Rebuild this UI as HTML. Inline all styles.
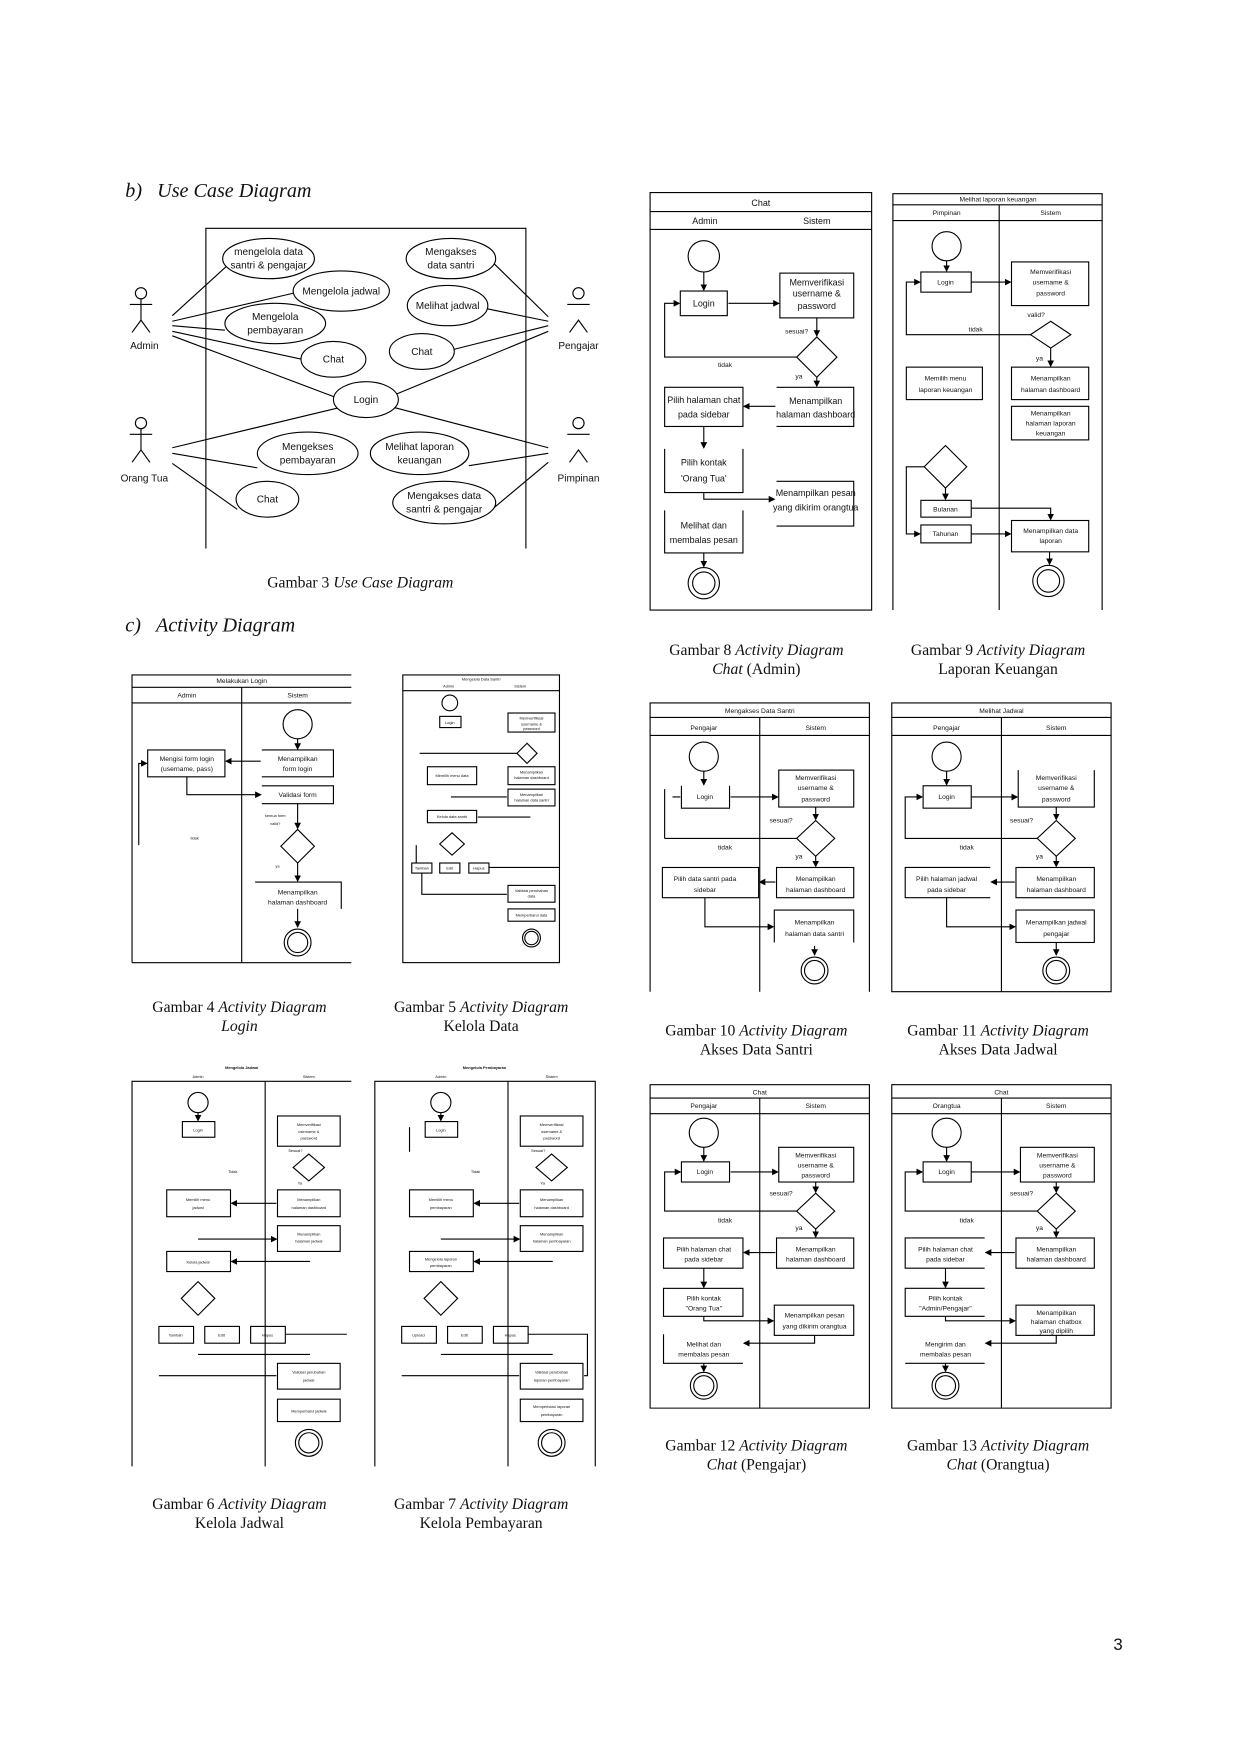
<!DOCTYPE html>
<html><head><meta charset="utf-8"><style>
html,body{margin:0;padding:0;background:#fff}
svg{display:block}
.s{fill:none;stroke:#000;stroke-width:1}
.w{fill:#fff;stroke:#000;stroke-width:1}
.t{font-family:"Liberation Sans",sans-serif;font-size:8px;text-anchor:middle;fill:#111}
.m{font-family:"Liberation Sans",sans-serif;font-size:6px;text-anchor:middle;fill:#111}
.n{font-family:"Liberation Sans",sans-serif;font-size:3.5px;text-anchor:middle;fill:#111}
.u{font-family:"Liberation Sans",sans-serif;font-size:9px;text-anchor:middle;fill:#111}
.cap{font-family:"Liberation Serif",serif;font-size:14px;text-anchor:middle;fill:#111}
.h{font-family:"Liberation Serif",serif;font-size:18px;font-style:italic;fill:#111}
</style></head><body>
<svg width="1242" height="1754" viewBox="0 0 1110 1567" preserveAspectRatio="none" xmlns="http://www.w3.org/2000/svg">
<defs><marker id="a" markerWidth="6" markerHeight="6" refX="5" refY="3" orient="auto" markerUnits="userSpaceOnUse"><path d="M0,0 L6,3 L0,6 z" fill="#000"/></marker></defs>

<text class="h" x="112" y="176">b)&#160;&#160;&#160;Use Case Diagram</text>
<text class="h" x="112" y="564">c)&#160;&#160;&#160;Activity Diagram</text>

<!-- USE CASE -->
<g>
<path class="s" d="M184,490 V204 H470 V490"/>
<g class="s">
<line x1="154" y1="282" x2="210" y2="231"/><line x1="154" y1="287" x2="262" y2="262"/>
<line x1="154" y1="291" x2="201" y2="295"/><line x1="154" y1="296" x2="270" y2="321"/>
<line x1="154" y1="300" x2="300" y2="355"/>
<line x1="490" y1="283" x2="442" y2="236"/><line x1="490" y1="287" x2="436" y2="276"/>
<line x1="490" y1="291" x2="406" y2="312"/><line x1="490" y1="296" x2="352" y2="353"/>
<line x1="154" y1="400" x2="304" y2="364"/><line x1="154" y1="405" x2="230" y2="418"/>
<line x1="154" y1="414" x2="212" y2="455"/>
<line x1="490" y1="400" x2="352" y2="364"/><line x1="490" y1="405" x2="419" y2="416"/>
<line x1="490" y1="413" x2="441" y2="454"/>
</g>
<g class="w">
<ellipse cx="240" cy="231" rx="41" ry="18"/><ellipse cx="403" cy="231" rx="40" ry="18"/>
<ellipse cx="305" cy="260" rx="43" ry="18"/><ellipse cx="400" cy="273" rx="36" ry="18"/>
<ellipse cx="246" cy="289" rx="45" ry="18"/><ellipse cx="298" cy="321" rx="29" ry="16"/>
<ellipse cx="377" cy="314" rx="29" ry="16"/><ellipse cx="327" cy="357" rx="29" ry="16"/>
<ellipse cx="275" cy="405" rx="45" ry="19"/><ellipse cx="375" cy="405" rx="44" ry="19"/>
<ellipse cx="239" cy="446" rx="28" ry="16"/><ellipse cx="397" cy="449" rx="46" ry="19"/>
</g>
<g class="u">
<text x="240" y="228">mengelola data</text><text x="240" y="240">santri &amp; pengajar</text>
<text x="403" y="228">Mengakses</text><text x="403" y="240">data santri</text>
<text x="305" y="263">Mengelola jadwal</text><text x="400" y="276">Melihat jadwal</text>
<text x="246" y="286">Mengelola</text><text x="246" y="298">pembayaran</text>
<text x="298" y="324">Chat</text><text x="377" y="317">Chat</text><text x="327" y="360">Login</text>
<text x="275" y="402">Mengekses</text><text x="275" y="414">pembayaran</text>
<text x="375" y="402">Melihat laporan</text><text x="375" y="414">keuangan</text>
<text x="239" y="449">Chat</text>
<text x="397" y="446">Mengakses data</text><text x="397" y="458">santri &amp; pengajar</text>
</g>
<g class="s">
<circle cx="126" cy="262" r="5"/><line x1="126" y1="267" x2="126" y2="286"/><line x1="116" y1="272" x2="136" y2="272"/><path d="M118,297 L126,286 L134,297"/>
<circle cx="126" cy="378" r="5"/><line x1="126" y1="383" x2="126" y2="402"/><line x1="116" y1="388" x2="136" y2="388"/><path d="M118,413 L126,402 L134,413"/>
<circle cx="517" cy="262" r="5"/><line x1="507" y1="272" x2="527" y2="272"/><path d="M509,297 L517,286 L525,297"/>
<circle cx="517" cy="378" r="5"/><line x1="507" y1="388" x2="527" y2="388"/><path d="M509,413 L517,402 L525,413"/>
</g>
<g class="u"><text x="129" y="312">Admin</text><text x="129" y="430">Orang Tua</text><text x="517" y="312">Pengajar</text><text x="517" y="430">Pimpinan</text></g>
<text class="cap" x="322" y="525">Gambar 3 <tspan font-style="italic">Use Case Diagram</tspan></text>
</g>

<!-- FIG 8 -->
<g>
<path class="s" d="M581,545 V172 H779 V545 Z M581,189 H779 M581,205 H779"/>
<text class="t" x="680" y="184">Chat</text><text class="t" x="630" y="200">Admin</text><text class="t" x="730" y="200">Sistem</text>
<circle class="s" cx="629" cy="229" r="14"/>
<line class="s" x1="629" y1="243" x2="629" y2="259" marker-end="url(#a)"/>
<rect class="s" x="608" y="260" width="42" height="22"/><text class="t" x="629" y="274">Login</text>
<line class="s" x1="651" y1="271" x2="696" y2="271" marker-end="url(#a)"/>
<rect class="s" x="697" y="244" width="66" height="40"/><text class="t" x="730" y="255">Memverifikasi</text><text class="t" x="730" y="265">username &amp;</text><text class="t" x="730" y="276">password</text>
<line class="s" x1="730" y1="284" x2="730" y2="300" marker-end="url(#a)"/>
<path class="s" d="M730,301 L748,319 L730,337 L712,319 Z"/>
<text class="m" x="712" y="298">sesuai?</text>
<path class="s" d="M712,319 H594 V271 H607" marker-end="url(#a)"/><text class="m" x="648" y="328">tidak</text>
<text class="m" x="714" y="338">ya</text>
<line class="s" x1="730" y1="337" x2="730" y2="345" marker-end="url(#a)"/>
<path class="s" d="M694,346 H763 V381 H694"/><text class="t" x="729" y="361">Menampilkan</text><text class="t" x="729" y="373">halaman dashboard</text>
<line class="s" x1="693" y1="363" x2="665" y2="363" marker-end="url(#a)"/>
<rect class="s" x="594" y="346" width="70" height="35"/><text class="t" x="629" y="360">Pilih halaman chat</text><text class="t" x="629" y="373">pada sidebar</text>
<line class="s" x1="629" y1="381" x2="629" y2="400" marker-end="url(#a)"/>
<path class="s" d="M594,401 V440 H664 V401"/><text class="t" x="629" y="416">Pilih kontak</text><text class="t" x="629" y="430">'Orang Tua'</text>
<path class="s" d="M629,440 V446 H692" marker-end="url(#a)"/>
<path class="s" d="M694,430 H763 V470 H694"/><text class="t" x="729" y="443">Menampilkan pesan</text><text class="t" x="729" y="456">yang dikirim orangtua</text>
<path class="s" d="M594,456 V494 H664 V456"/><text class="t" x="629" y="472">Melihat dan</text><text class="t" x="629" y="485">membalas pesan</text>
<line class="s" x1="629" y1="494" x2="629" y2="506" marker-end="url(#a)"/>
<circle class="s" cx="629" cy="521" r="14"/><circle class="s" cx="629" cy="521" r="10"/>
<text class="cap" x="676" y="585">Gambar 8 <tspan font-style="italic">Activity Diagram</tspan></text>
<text class="cap" x="676" y="602"><tspan font-style="italic">Chat</tspan> (Admin)</text>
</g>

<!-- FIG 9 -->
<g>
<path class="s" d="M798,545 V173 H985 V545 M798,183 H985 M798,197 H985 M893,183 V545"/>
<text class="m" x="892" y="180">Melihat laporan keuangan</text><text class="m" x="846" y="192">Pimpinan</text><text class="m" x="939" y="192">Sistem</text>
<circle class="s" cx="846" cy="220" r="13"/>
<line class="s" x1="846" y1="233" x2="846" y2="242" marker-end="url(#a)"/>
<rect class="s" x="823" y="243" width="45" height="18"/><text class="m" x="845" y="254">Login</text>
<line class="s" x1="868" y1="252" x2="903" y2="252" marker-end="url(#a)"/>
<rect class="s" x="904" y="234" width="69" height="39"/><text class="m" x="939" y="245">Memverifikasi</text><text class="m" x="939" y="254">username &amp;</text><text class="m" x="939" y="264">password</text>
<text class="m" x="926" y="283">valid?</text>
<path class="s" d="M939,287 L957,299 L939,311 L921,299 Z"/>
<path class="s" d="M921,299 H810 V252 H822" marker-end="url(#a)"/><text class="m" x="872" y="296">tidak</text>
<text class="m" x="929" y="322">ya</text>
<line class="s" x1="939" y1="311" x2="939" y2="327" marker-end="url(#a)"/>
<rect class="s" x="810" y="328" width="68" height="29"/><text class="m" x="845" y="340">Memilih menu</text><text class="m" x="845" y="350">laporan keuangan</text>
<rect class="s" x="904" y="328" width="69" height="29"/><text class="m" x="939" y="340">Menampilkan</text><text class="m" x="939" y="350">halaman dashboard</text>
<rect class="s" x="904" y="363" width="69" height="30"/><text class="m" x="939" y="371">Menampilkan</text><text class="m" x="939" y="380">halaman laporan</text><text class="m" x="939" y="389">keuangan</text>
<path class="s" d="M845,398 L864,417 L845,436 L826,417 Z"/>
<path class="s" d="M826,417 H810 V477 H822" marker-end="url(#a)"/>
<line class="s" x1="845" y1="436" x2="845" y2="446" marker-end="url(#a)"/>
<rect class="s" x="823" y="447" width="45" height="15"/><text class="m" x="845" y="457">Bulanan</text>
<rect class="s" x="823" y="469" width="45" height="16"/><text class="m" x="845" y="479">Tahunan</text>
<path class="s" d="M868,454 H939 V464" marker-end="url(#a)"/>
<line class="s" x1="868" y1="477" x2="903" y2="477" marker-end="url(#a)"/>
<rect class="s" x="904" y="465" width="69" height="28"/><text class="m" x="939" y="476">Menampilkan data</text><text class="m" x="939" y="485">laporan</text>
<line class="s" x1="938" y1="493" x2="938" y2="504" marker-end="url(#a)"/>
<circle class="s" cx="937" cy="519" r="14"/><circle class="s" cx="937" cy="519" r="10"/>
<text class="cap" x="892" y="585">Gambar 9 <tspan font-style="italic">Activity Diagram</tspan></text>
<text class="cap" x="892" y="602">Laporan Keuangan</text>
</g>

<!-- FIG 4 -->
<g>
<path class="s" d="M118,860 V603 H314 M118,614 H314 M118,628 H314 M216,614 V860 M118,860 H314"/>
<text class="m" x="216" y="610">Melakukan Login</text><text class="m" x="167" y="623">Admin</text><text class="m" x="266" y="623">Sistem</text>
<circle class="s" cx="266" cy="647" r="13"/>
<line class="s" x1="266" y1="660" x2="266" y2="669" marker-end="url(#a)"/>
<path class="s" d="M234,670 H298 V694 H234"/><text class="m" x="266" y="680">Menampilkan</text><text class="m" x="266" y="689">form login</text>
<line class="s" x1="233" y1="680" x2="202" y2="680" marker-end="url(#a)"/>
<rect class="s" x="132" y="670" width="69" height="24"/><text class="m" x="167" y="680">Mengisi form login</text><text class="m" x="167" y="689">(username, pass)</text>
<path class="s" d="M167,694 V710 H233" marker-end="url(#a)"/>
<path class="s" d="M234,702 H298 V718 H234"/><text class="m" x="266" y="712">Validasi form</text>
<path class="s" d="M124,755 V682 H131" marker-end="url(#a)"/>
<text class="n" x="246" y="730">semua form</text><text class="n" x="246" y="737">valid?</text>
<line class="s" x1="266" y1="718" x2="266" y2="740" marker-end="url(#a)"/>
<path class="s" d="M266,741 L281,756 L266,771 L251,756 Z"/>
<text class="n" x="174" y="750">tidak</text><text class="n" x="248" y="775">ya</text>
<line class="s" x1="266" y1="771" x2="266" y2="787" marker-end="url(#a)"/>
<path class="s" d="M228,788 H305 V812"/><text class="m" x="266" y="799">Menampilkan</text><text class="m" x="266" y="808">halaman dashboard</text>
<line class="s" x1="266" y1="812" x2="266" y2="828" marker-end="url(#a)"/>
<circle class="s" cx="266" cy="842" r="12"/><circle class="s" cx="266" cy="842" r="9"/>
<text class="cap" x="214" y="904">Gambar 4 <tspan font-style="italic">Activity Diagram</tspan></text>
<text class="cap" x="214" y="921" font-style="italic">Login</text>
</g>

<!-- FIG 5 -->
<g>
<rect class="s" x="360" y="603" width="140" height="257"/>
<line class="s" x1="360" y1="617" x2="500" y2="617"/>
<text class="n" x="430" y="608">Mengelola Data Santri</text><text class="n" x="401" y="614">Admin</text><text class="n" x="465" y="614">Sistem</text>
<circle class="s" cx="402" cy="628" r="7"/>
<rect class="s" x="393" y="640" width="19" height="10"/><text class="n" x="402" y="647">Login</text>
<rect class="s" x="454" y="637" width="42" height="17"/><text class="n" x="475" y="643">Memverifikasi</text><text class="n" x="475" y="648">username &amp;</text><text class="n" x="475" y="652">password</text>
<path class="s" d="M471,664 L480,673 L471,682 L462,673 Z"/>
<line class="s" x1="375" y1="673" x2="462" y2="673"/>
<rect class="s" x="382" y="685" width="44" height="16"/><text class="n" x="404" y="694">Memilih menu data</text>
<rect class="s" x="454" y="685" width="42" height="16"/><text class="n" x="475" y="691">Menampilkan</text><text class="n" x="475" y="696">halaman dashboard</text>
<rect class="s" x="454" y="705" width="42" height="15"/><text class="n" x="475" y="711">Menampilkan</text><text class="n" x="475" y="716">halaman data santri</text>
<line class="s" x1="403" y1="712" x2="453" y2="712"/>
<rect class="s" x="382" y="724" width="44" height="11"/><text class="n" x="404" y="731">Kelola data santri</text>
<line class="s" x1="474" y1="730" x2="427" y2="730"/>
<path class="s" d="M404,744 L415,754 L404,764 L393,754 Z"/>
<rect class="s" x="368" y="771" width="18" height="9"/><text class="n" x="377" y="777">Tambah</text>
<rect class="s" x="393" y="771" width="18" height="9"/><text class="n" x="402" y="777">Edit</text>
<rect class="s" x="419" y="771" width="18" height="9"/><text class="n" x="428" y="777">Hapus</text>
<path class="s" d="M437,775 H500 M377,780 V799 H453 M372,755 V771"/>
<rect class="s" x="454" y="791" width="42" height="15"/><text class="n" x="475" y="797">Validasi perubahan</text><text class="n" x="475" y="802">data</text>
<rect class="s" x="454" y="812" width="42" height="11"/><text class="n" x="475" y="819">Memperbarui data</text>
<circle class="s" cx="475" cy="838" r="8"/><circle class="s" cx="475" cy="838" r="6"/>
<text class="cap" x="430" y="904">Gambar 5 <tspan font-style="italic">Activity Diagram</tspan></text>
<text class="cap" x="430" y="921">Kelola Data</text>
</g>

<!-- FIG 10 -->
<g>
<path class="s" d="M581,886 V628 H777 V886 M581,641 H777 M581,657 H777 M679,641 V886"/>
<text class="m" x="679" y="637">Mengakses Data Santri</text><text class="m" x="629" y="652">Pengajar</text><text class="m" x="729" y="652">Sistem</text>
<circle class="s" cx="629" cy="676" r="13"/>
<line class="s" x1="629" y1="689" x2="629" y2="701" marker-end="url(#a)"/>
<path class="s" d="M609,702 V722 H652 V702"/><text class="m" x="630" y="714">Login</text>
<line class="s" x1="653" y1="712" x2="695" y2="712" marker-end="url(#a)"/>
<rect class="s" x="696" y="688" width="67" height="33"/><text class="m" x="729" y="697">Memverifikasi</text><text class="m" x="729" y="706">username &amp;</text><text class="m" x="729" y="716">password</text>
<text class="m" x="698" y="735">sesuai?</text>
<line class="s" x1="729" y1="721" x2="729" y2="732" marker-end="url(#a)"/>
<path class="s" d="M729,733 L746,749 L729,765 L712,749 Z"/>
<path class="s" d="M712,749 H594 M594,705 V749 M601,712 H608" /><text class="m" x="648" y="759">tidak</text><text class="m" x="714" y="767">ya</text>
<line class="s" x1="729" y1="765" x2="729" y2="774" marker-end="url(#a)"/>
<rect class="s" x="694" y="775" width="69" height="27"/><text class="m" x="729" y="787">Menampilkan</text><text class="m" x="729" y="797">halaman dashboard</text>
<line class="s" x1="693" y1="788" x2="679" y2="788" marker-end="url(#a)"/>
<rect class="s" x="592" y="775" width="86" height="27"/><text class="m" x="630" y="787">Pilih data santri pada</text><text class="m" x="630" y="797">sidebar</text>
<path class="s" d="M630,802 V828 H691" marker-end="url(#a)"/>
<path class="s" d="M692,842 V813 H763 V842"/><text class="m" x="728" y="826">Menampilkan</text><text class="m" x="728" y="836">halaman data santri</text>
<line class="s" x1="728" y1="845" x2="728" y2="853" marker-end="url(#a)"/>
<circle class="s" cx="728" cy="867" r="12"/><circle class="s" cx="728" cy="867" r="9"/>
<text class="cap" x="676" y="925">Gambar 10 <tspan font-style="italic">Activity Diagram</tspan></text>
<text class="cap" x="676" y="942">Akses Data Santri</text>
</g>

<!-- FIG 11 -->
<g>
<path class="s" d="M797,886 V628 H993 V886 Z M797,641 H993 M797,657 H993 M895,641 V886"/>
<text class="m" x="895" y="637">Melihat Jadwal</text><text class="m" x="846" y="652">Pengajar</text><text class="m" x="944" y="652">Sistem</text>
<circle class="s" cx="846" cy="676" r="13"/>
<line class="s" x1="846" y1="689" x2="846" y2="701" marker-end="url(#a)"/>
<rect class="s" x="825" y="702" width="43" height="20"/><text class="m" x="846" y="714">Login</text>
<line class="s" x1="868" y1="712" x2="909" y2="712" marker-end="url(#a)"/>
<path class="s" d="M910,688 V721 H978 V688"/><text class="m" x="944" y="697">Memverifikasi</text><text class="m" x="944" y="706">username &amp;</text><text class="m" x="944" y="716">password</text>
<text class="m" x="913" y="735">sesuai?</text>
<line class="s" x1="944" y1="721" x2="944" y2="732" marker-end="url(#a)"/>
<path class="s" d="M944,733 L961,749 L944,765 L927,749 Z"/>
<path class="s" d="M927,749 H809 V712 H824" marker-end="url(#a)"/><text class="m" x="864" y="759">tidak</text><text class="m" x="929" y="767">ya</text>
<line class="s" x1="944" y1="765" x2="944" y2="774" marker-end="url(#a)"/>
<rect class="s" x="908" y="775" width="70" height="27"/><text class="m" x="944" y="787">Menampilkan</text><text class="m" x="944" y="797">halaman dashboard</text>
<line class="s" x1="907" y1="788" x2="886" y2="788" marker-end="url(#a)"/>
<path class="s" d="M885,775 H809 V802 H885"/><text class="m" x="846" y="787">Pilih halaman jadwal</text><text class="m" x="846" y="797">pada sidebar</text>
<path class="s" d="M846,802 V828 H907" marker-end="url(#a)"/>
<rect class="s" x="908" y="813" width="70" height="29"/><text class="m" x="944" y="826">Menampilkan jadwal</text><text class="m" x="944" y="836">pengajar</text>
<line class="s" x1="944" y1="842" x2="944" y2="853" marker-end="url(#a)"/>
<circle class="s" cx="944" cy="867" r="12"/><circle class="s" cx="944" cy="867" r="9"/>
<text class="cap" x="892" y="925">Gambar 11 <tspan font-style="italic">Activity Diagram</tspan></text>
<text class="cap" x="892" y="942">Akses Data Jadwal</text>
</g>

<!-- FIG 12 -->
<g>
<path class="s" d="M581,1258 V969 H777 V1258 Z M581,981 H777 M581,995 H777 M679,981 V1258"/>
<text class="m" x="679" y="978">Chat</text><text class="m" x="629" y="990">Pengajar</text><text class="m" x="729" y="990">Sistem</text>
<circle class="s" cx="629" cy="1012" r="13"/>
<line class="s" x1="629" y1="1025" x2="629" y2="1037" marker-end="url(#a)"/>
<rect class="s" x="609" y="1038" width="43" height="18"/><text class="m" x="630" y="1049">Login</text>
<line class="s" x1="653" y1="1047" x2="695" y2="1047" marker-end="url(#a)"/>
<rect class="s" x="696" y="1025" width="67" height="31"/><text class="m" x="729" y="1034">Memverifikasi</text><text class="m" x="729" y="1043">username &amp;</text><text class="m" x="729" y="1052">password</text>
<text class="m" x="698" y="1068">sesuai?</text>
<line class="s" x1="729" y1="1056" x2="729" y2="1065" marker-end="url(#a)"/>
<path class="s" d="M729,1066 L746,1082 L729,1098 L712,1082 Z"/>
<path class="s" d="M712,1082 H594 V1047 H608" marker-end="url(#a)"/><text class="m" x="648" y="1092">tidak</text><text class="m" x="714" y="1099">ya</text>
<line class="s" x1="729" y1="1098" x2="729" y2="1105" marker-end="url(#a)"/>
<rect class="s" x="694" y="1106" width="69" height="27"/><text class="m" x="729" y="1118">Menampilkan</text><text class="m" x="729" y="1127">halaman dashboard</text>
<line class="s" x1="693" y1="1119" x2="665" y2="1119" marker-end="url(#a)"/>
<rect class="s" x="593" y="1106" width="71" height="27"/><text class="m" x="629" y="1118">Pilih halaman chat</text><text class="m" x="629" y="1127">pada sidebar</text>
<line class="s" x1="629" y1="1133" x2="629" y2="1150" marker-end="url(#a)"/>
<rect class="s" x="593" y="1151" width="71" height="25"/><text class="m" x="629" y="1162">Pilih kontak</text><text class="m" x="629" y="1171">"Orang Tua"</text>
<path class="s" d="M629,1176 V1180 H691" marker-end="url(#a)"/>
<rect class="s" x="692" y="1166" width="71" height="27"/><text class="m" x="728" y="1177">Menampilkan pesan</text><text class="m" x="728" y="1187">yang dikirim orangtua</text>
<path class="s" d="M728,1193 V1200 H665" marker-end="url(#a)"/>
<path class="s" d="M593,1192 V1218 H664"/><text class="m" x="629" y="1203">Melihat dan</text><text class="m" x="629" y="1212">membalas pesan</text>
<line class="s" x1="629" y1="1218" x2="629" y2="1225" marker-end="url(#a)"/>
<circle class="s" cx="629" cy="1238" r="12"/><circle class="s" cx="629" cy="1238" r="9"/>
<text class="cap" x="676" y="1296">Gambar 12 <tspan font-style="italic">Activity Diagram</tspan></text>
<text class="cap" x="676" y="1313"><tspan font-style="italic">Chat</tspan> (Pengajar)</text>
</g>

<!-- FIG 13 -->
<g>
<path class="s" d="M797,1258 V969 H993 V1258 Z M797,981 H993 M797,995 H993 M895,981 V1258"/>
<text class="m" x="895" y="978">Chat</text><text class="m" x="846" y="990">Orangtua</text><text class="m" x="944" y="990">Sistem</text>
<circle class="s" cx="846" cy="1012" r="13"/>
<line class="s" x1="846" y1="1025" x2="846" y2="1037" marker-end="url(#a)"/>
<rect class="s" x="825" y="1038" width="43" height="18"/><text class="m" x="846" y="1049">Login</text>
<line class="s" x1="868" y1="1047" x2="911" y2="1047" marker-end="url(#a)"/>
<rect class="s" x="912" y="1025" width="66" height="31"/><text class="m" x="945" y="1034">Memverifikasi</text><text class="m" x="945" y="1043">username &amp;</text><text class="m" x="945" y="1052">password</text>
<text class="m" x="913" y="1068">sesuai?</text>
<line class="s" x1="944" y1="1056" x2="944" y2="1065" marker-end="url(#a)"/>
<path class="s" d="M944,1066 L961,1082 L944,1098 L927,1082 Z"/>
<path class="s" d="M927,1082 H809 V1047 H824" marker-end="url(#a)"/><text class="m" x="864" y="1092">tidak</text><text class="m" x="929" y="1099">ya</text>
<line class="s" x1="944" y1="1098" x2="944" y2="1105" marker-end="url(#a)"/>
<rect class="s" x="908" y="1106" width="70" height="27"/><text class="m" x="944" y="1118">Menampilkan</text><text class="m" x="944" y="1127">halaman dashboard</text>
<line class="s" x1="907" y1="1119" x2="881" y2="1119" marker-end="url(#a)"/>
<path class="s" d="M880,1106 H809 V1133 H880"/><text class="m" x="845" y="1118">Pilih halaman chat</text><text class="m" x="845" y="1127">pada sidebar</text>
<line class="s" x1="845" y1="1133" x2="845" y2="1150" marker-end="url(#a)"/>
<path class="s" d="M880,1151 H809 V1176 H880"/><text class="m" x="845" y="1162">Pilih kontak</text><text class="m" x="845" y="1171">"Admin/Pengajar"</text>
<path class="s" d="M845,1176 V1180 H907" marker-end="url(#a)"/>
<rect class="s" x="908" y="1166" width="70" height="27"/><text class="m" x="944" y="1175">Menampilkan</text><text class="m" x="944" y="1183">halaman chatbox</text><text class="m" x="944" y="1191">yang dipilih</text>
<path class="s" d="M944,1193 V1200 H881" marker-end="url(#a)"/>
<path class="s" d="M809,1218 H880"/><text class="m" x="845" y="1203">Mengirim dan</text><text class="m" x="845" y="1212">membalas pesan</text>
<line class="s" x1="845" y1="1218" x2="845" y2="1225" marker-end="url(#a)"/>
<circle class="s" cx="845" cy="1238" r="12"/><circle class="s" cx="845" cy="1238" r="9"/>
<text class="cap" x="892" y="1296">Gambar 13 <tspan font-style="italic">Activity Diagram</tspan></text>
<text class="cap" x="892" y="1313"><tspan font-style="italic">Chat</tspan> (Orangtua)</text>
</g>

<!-- FIG 6 -->
<g>
<path class="s" d="M118,1310 V966 H314 M237,966 V1310"/>
<text class="n" x="216" y="955" font-weight="bold">Mengelola Jadwal</text><text class="n" x="177" y="963">Admin</text><text class="n" x="276" y="963">Sistem</text>
<circle class="s" cx="177" cy="985" r="9"/>
<line class="s" x1="177" y1="994" x2="177" y2="1001" marker-end="url(#a)"/>
<rect class="s" x="163" y="1002" width="29" height="14"/><text class="n" x="177" y="1011">Login</text>
<rect class="s" x="248" y="997" width="56" height="27"/><text class="n" x="276" y="1006">Memverifikasi</text><text class="n" x="276" y="1012">username &amp;</text><text class="n" x="276" y="1018">password</text>
<text class="n" x="264" y="1029">Sesuai?</text>
<path class="s" d="M276,1031 L290,1043 L276,1055 L262,1043 Z"/>
<text class="n" x="208" y="1048">Tidak</text><text class="n" x="268" y="1058">Ya</text>
<rect class="s" x="149" y="1063" width="57" height="24"/><text class="n" x="177" y="1073">Memilih menu</text><text class="n" x="177" y="1080">jadwal</text>
<rect class="s" x="248" y="1063" width="56" height="24"/><text class="n" x="276" y="1073">Menampilkan</text><text class="n" x="276" y="1080">halaman dashboard</text>
<line class="s" x1="247" y1="1075" x2="207" y2="1075" marker-end="url(#a)"/>
<rect class="s" x="248" y="1095" width="56" height="23"/><text class="n" x="276" y="1104">Menampilkan</text><text class="n" x="276" y="1110">halaman jadwal</text>
<line class="s" x1="177" y1="1107" x2="247" y2="1107" marker-end="url(#a)"/>
<rect class="s" x="149" y="1118" width="57" height="18"/><text class="n" x="177" y="1129">Kelola jadwal</text>
<line class="s" x1="277" y1="1127" x2="207" y2="1127" marker-end="url(#a)"/>
<path class="s" d="M177,1145 L192,1160 L177,1175 L162,1160 Z"/>
<rect class="s" x="142" y="1185" width="31" height="15"/><text class="n" x="157" y="1194">Tambah</text>
<rect class="s" x="183" y="1185" width="31" height="15"/><text class="n" x="198" y="1194">Edit</text>
<rect class="s" x="224" y="1185" width="31" height="15"/><text class="n" x="239" y="1194">Hapus</text>
<path class="s" d="M255,1192 H310 M177,1210 H277 M142,1229 H247"/>
<rect class="s" x="248" y="1218" width="56" height="23"/><text class="n" x="276" y="1227">Validasi perubahan</text><text class="n" x="276" y="1234">jadwal</text>
<rect class="s" x="248" y="1250" width="56" height="20"/><text class="n" x="276" y="1262">Memperbarui jadwal</text>
<circle class="s" cx="276" cy="1289" r="12"/><circle class="s" cx="276" cy="1289" r="9"/>
<text class="cap" x="214" y="1348">Gambar 6 <tspan font-style="italic">Activity Diagram</tspan></text>
<text class="cap" x="214" y="1365">Kelola Jadwal</text>
</g>

<!-- FIG 7 -->
<g>
<path class="s" d="M335,1310 V966 H532 V1310 M454,966 V1310"/>
<text class="n" x="433" y="955" font-weight="bold">Mengelola Pembayaran</text><text class="n" x="394" y="963">Admin</text><text class="n" x="493" y="963">Sistem</text>
<circle class="s" cx="394" cy="985" r="9"/>
<line class="s" x1="394" y1="994" x2="394" y2="1001" marker-end="url(#a)"/>
<rect class="s" x="380" y="1002" width="29" height="14"/><text class="n" x="394" y="1011">Login</text>
<line class="s" x1="366" y1="1007" x2="366" y2="1029"/>
<rect class="s" x="465" y="997" width="56" height="27"/><text class="n" x="493" y="1006">Memverifikasi</text><text class="n" x="493" y="1012">username &amp;</text><text class="n" x="493" y="1018">password</text>
<text class="n" x="481" y="1029">Sesuai?</text>
<path class="s" d="M493,1031 L507,1043 L493,1055 L479,1043 Z"/>
<text class="n" x="425" y="1048">Tidak</text><text class="n" x="485" y="1058">Ya</text>
<rect class="s" x="366" y="1063" width="57" height="24"/><text class="n" x="394" y="1073">Memilih menu</text><text class="n" x="394" y="1080">pembayaran</text>
<rect class="s" x="465" y="1063" width="56" height="24"/><text class="n" x="493" y="1073">Menampilkan</text><text class="n" x="493" y="1080">halaman dashboard</text>
<line class="s" x1="464" y1="1075" x2="424" y2="1075" marker-end="url(#a)"/>
<rect class="s" x="465" y="1095" width="56" height="23"/><text class="n" x="493" y="1104">Menampilkan</text><text class="n" x="493" y="1110">halaman pembayaran</text>
<line class="s" x1="394" y1="1107" x2="464" y2="1107" marker-end="url(#a)"/>
<rect class="s" x="366" y="1118" width="57" height="18"/><text class="n" x="394" y="1126">Mengelola laporan</text><text class="n" x="394" y="1132">pembayaran</text>
<line class="s" x1="494" y1="1127" x2="424" y2="1127" marker-end="url(#a)"/>
<path class="s" d="M394,1145 L409,1160 L394,1175 L379,1160 Z"/>
<rect class="s" x="359" y="1185" width="31" height="15"/><text class="n" x="374" y="1194">Upload</text>
<rect class="s" x="400" y="1185" width="31" height="15"/><text class="n" x="415" y="1194">Edit</text>
<rect class="s" x="441" y="1185" width="31" height="15"/><text class="n" x="456" y="1194">Hapus</text>
<path class="s" d="M472,1192 H525 V1229 H522 M394,1210 H494 M359,1229 H464"/>
<rect class="s" x="465" y="1218" width="56" height="23"/><text class="n" x="493" y="1227">Validasi perubahan</text><text class="n" x="493" y="1234">laporan pembayaran</text>
<rect class="s" x="465" y="1250" width="56" height="20"/><text class="n" x="493" y="1258">Memperbarui laporan</text><text class="n" x="493" y="1265">pembayaran</text>
<circle class="s" cx="493" cy="1289" r="12"/><circle class="s" cx="493" cy="1289" r="9"/>
<text class="cap" x="430" y="1348">Gambar 7 <tspan font-style="italic">Activity Diagram</tspan></text>
<text class="cap" x="430" y="1365">Kelola Pembayaran</text>
</g>

<text x="995" y="1474" font-family="Liberation Sans, sans-serif" font-size="15" fill="#111">3</text>
</svg>
</body></html>
